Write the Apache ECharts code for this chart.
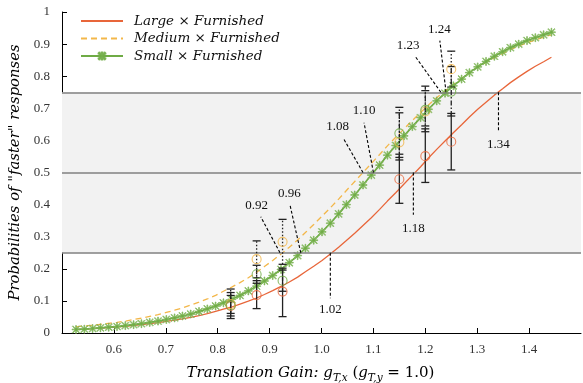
<!DOCTYPE html>
<html><head><meta charset="utf-8">
<script src="https://cdn.jsdelivr.net/npm/echarts@6/dist/echarts.min.js"></script>
<style>html,body{margin:0;padding:0;background:#fff}#c{width:583px;height:383px}</style>
</head><body><div id="c"></div>
<script>
// fitted psychometric curves (sampled x positions and read probabilities)
const curveX = [0.527,0.543,0.559,0.574,0.590,0.606,0.622,0.638,0.653,0.669,0.685,0.701,0.717,0.732,0.748,0.764,0.780,0.796,0.811,0.827,0.843,0.859,0.875,0.890,0.906,0.922,0.938,0.954,0.969,0.985,1.001,1.017,1.033,1.048,1.064,1.080,1.096,1.112,1.127,1.143,1.159,1.175,1.191,1.206,1.222,1.238,1.254,1.270,1.285,1.301,1.317,1.333,1.349,1.364,1.380,1.396,1.412,1.428,1.443];
const largeY = [0.011,0.012,0.014,0.015,0.017,0.019,0.021,0.024,0.026,0.029,0.032,0.036,0.040,0.044,0.049,0.054,0.060,0.067,0.074,0.081,0.090,0.099,0.109,0.120,0.132,0.145,0.159,0.174,0.191,0.208,0.226,0.246,0.267,0.288,0.311,0.335,0.359,0.385,0.411,0.437,0.464,0.491,0.518,0.545,0.572,0.598,0.624,0.649,0.673,0.697,0.719,0.741,0.761,0.780,0.798,0.815,0.831,0.845,0.859];
const mediumY = [0.019,0.022,0.024,0.027,0.030,0.033,0.037,0.042,0.046,0.052,0.057,0.064,0.071,0.078,0.087,0.096,0.106,0.117,0.130,0.143,0.157,0.172,0.189,0.207,0.226,0.246,0.267,0.290,0.313,0.338,0.364,0.390,0.417,0.444,0.472,0.500,0.528,0.556,0.583,0.610,0.636,0.662,0.687,0.710,0.733,0.754,0.774,0.793,0.811,0.828,0.843,0.857,0.870,0.883,0.894,0.904,0.913,0.922,0.929];
const smallY = [0.011,0.012,0.014,0.016,0.018,0.020,0.023,0.026,0.029,0.033,0.037,0.042,0.047,0.053,0.059,0.067,0.075,0.084,0.094,0.105,0.117,0.131,0.146,0.162,0.179,0.198,0.219,0.241,0.264,0.289,0.315,0.342,0.371,0.400,0.430,0.461,0.492,0.523,0.554,0.584,0.614,0.643,0.671,0.697,0.723,0.747,0.770,0.791,0.811,0.829,0.846,0.862,0.876,0.889,0.900,0.911,0.920,0.929,0.937];

// observed proportions with error bars
const ptX = [0.825,0.875,0.925,1.15,1.2,1.25];
const largeP  = [0.084,0.118,0.129,0.479,0.551,0.596];
const largeLo = [0.045,0.076,0.051,0.404,0.469,0.508];
const largeHi = [0.126,0.163,0.202,0.557,0.636,0.684];
const mediumP  = [0.090,0.230,0.284,0.594,0.690,0.822];
const mediumLo = [0.053,0.172,0.214,0.547,0.645,0.766];
const mediumHi = [0.137,0.287,0.354,0.686,0.755,0.878];
const smallP  = [0.086,0.183,0.163,0.622,0.695,0.752];
const smallLo = [0.061,0.155,0.130,0.539,0.627,0.676];
const smallHi = [0.117,0.211,0.196,0.703,0.769,0.830];

// axes
const xTicks = [0.6,0.7,0.8,0.9,1.0,1.1,1.2,1.3,1.4];
const refLevels = [0.25,0.5,0.75];

// threshold annotations
const annText  = ['0.92','0.96','1.02','1.08','1.10','1.18','1.23','1.24','1.34'];
const annX     = [0.92,0.96,1.017,1.08,1.10,1.177,1.23,1.24,1.341];
const annLevel = [0.25,0.25,0.25,0.5,0.5,0.5,0.75,0.75,0.75];
const annEndX  = [0.883,0.939,1.017,1.043,1.082,1.177,1.180,1.228,1.341];
const annEndY  = [0.362,0.401,0.108,0.604,0.655,0.368,0.863,0.911,0.627];
const annLabX  = [0.875,0.938,1.017,1.031,1.082,1.177,1.167,1.227,1.341];
const annLabY  = [0.396,0.435,0.074,0.643,0.692,0.326,0.895,0.946,0.588];

const names = ['Large \u00d7 Furnished','Medium \u00d7 Furnished','Small \u00d7 Furnished'];
const cRed = '#E8663A', cOrange = '#F3B74A', cGreen = '#6FAB45', cGreenMk = '#9DCB7A';
const serif = 'Liberation Serif';
const iserif = 'DejaVu Serif';

const asterisk = 'path://M4.5 0 h1 v10 h-1 z M0 4.5 h10 v1 h-10 z M1.1 0.4 L9.6 8.9 L8.9 9.6 L0.4 1.1 Z M8.9 0.4 L9.6 1.1 L1.1 9.6 L0.4 8.9 Z';

function zip(xs, ys){ return xs.map((x,i)=>[x, ys[i]]); }

function errRender(dash){
  return function(params, api){
    const x = api.value(0);
    const lo = api.coord([x, api.value(1)]);
    const hi = api.coord([x, api.value(2)]);
    const w = 4;
    const st = {stroke:'#222', lineWidth:1.3};
    return {type:'group', children:[
      {type:'line', shape:{x1:lo[0],y1:lo[1],x2:hi[0],y2:hi[1]}, style:Object.assign({lineDash:dash}, st)},
      {type:'line', shape:{x1:lo[0]-w,y1:lo[1],x2:lo[0]+w,y2:lo[1]}, style:st},
      {type:'line', shape:{x1:hi[0]-w,y1:hi[1],x2:hi[0]+w,y2:hi[1]}, style:st}
    ]};
  };
}

const chart = echarts.init(document.getElementById('c'), null, {renderer:'canvas'});
chart.setOption({
  animation:false,
  backgroundColor:'#fff',
  grid:{left:62, right:2, top:12, bottom:50, outerBoundsMode:'none', containLabel:false},
  legend:{
    data:[
      {name:names[0], itemStyle:{opacity:0}},
      {name:names[1], itemStyle:{opacity:0}},
      {name:names[2], itemStyle:{opacity:0.9}}
    ],
    orient:'vertical', left:75, top:9, itemWidth:42, itemHeight:9, itemGap:3.5,
    textStyle:{fontFamily:iserif, fontStyle:'italic', fontSize:13.5, color:'#111', padding:[0,0,0,6]}
  },
  xAxis:{
    type:'value', min:0.5, max:1.5, interval:0.1,
    axisLine:{show:true, lineStyle:{color:'#000', width:1}},
    axisTick:{show:true, inside:true, length:5, customValues:xTicks, lineStyle:{color:'#000'}},
    axisLabel:{customValues:xTicks, formatter:v=>Number(v).toFixed(1), fontFamily:serif, fontSize:13, color:'#333', margin:10},
    splitLine:{show:false},
    name:'{i|Translation Gain: g}{s|T,x}{r| (}{i|g}{s|T,y}{r| = 1.0)}',
    nameLocation:'middle', nameGap:30,
    nameTextStyle:{fontFamily:iserif, fontSize:15, color:'#000', padding:[0,22,0,0],
      rich:{
        i:{fontFamily:iserif, fontStyle:'italic', fontSize:15, color:'#000'},
        s:{fontFamily:iserif, fontStyle:'italic', fontSize:10.5, color:'#000', padding:[10,0,0,0]},
        r:{fontFamily:iserif, fontSize:15, color:'#000'}
      }}
  },
  yAxis:{
    type:'value', min:0, max:1, interval:0.1,
    axisLine:{show:true, lineStyle:{color:'#000', width:1}},
    axisTick:{show:true, inside:true, length:5, lineStyle:{color:'#000'}},
    axisLabel:{formatter:v=>String(+Number(v).toFixed(1)), fontFamily:serif, fontSize:13, color:'#333', margin:12},
    splitLine:{show:false},
    name:'Probabilities of "faster" responses',
    nameLocation:'middle', nameGap:27,
    nameTextStyle:{fontFamily:iserif, fontStyle:'italic', fontSize:14.8, color:'#000'}
  },
  series:[
    {
      name:'bg', type:'line', data:[], z:1, silent:true,
      markArea:{silent:true, itemStyle:{color:'#f2f2f2'}, data:[[{yAxis:refLevels[0]},{yAxis:refLevels[2]}]]},
      markLine:{silent:true, symbol:'none', label:{show:false}, lineStyle:{color:'#808080', width:1.5, type:'solid'},
        data:refLevels.map(v=>({yAxis:v}))}
    },
    {
      name:names[0], type:'line', data:zip(curveX, largeY), showSymbol:false, symbol:'none', z:3,
      lineStyle:{color:cRed, width:1.3}, itemStyle:{color:cRed}
    },
    {
      name:names[1], type:'line', data:zip(curveX, mediumY), showSymbol:false, symbol:'none', z:3,
      lineStyle:{color:cOrange, width:1.3, type:[6,4]}, itemStyle:{color:cOrange}
    },
    {
      name:names[2], type:'line', data:zip(curveX, smallY), symbol:asterisk, symbolSize:8, showSymbol:true, z:4,
      lineStyle:{color:cGreen, width:1.7}, itemStyle:{color:cGreenMk, borderColor:cGreen, borderWidth:0.6}
    },
    {
      name:'annot', type:'custom', z:5, silent:true,
      data:annText.map((t,i)=>[annX[i], annLevel[i], annEndX[i], annEndY[i], annLabX[i], annLabY[i], i]),
      encode:{x:0, y:1},
      renderItem:function(params, api){
        const i = api.value(6);
        const a = api.coord([api.value(0), api.value(1)]);
        const b = api.coord([api.value(2), api.value(3)]);
        const c = api.coord([api.value(4), api.value(5)]);
        return {type:'group', children:[
          {type:'line', shape:{x1:a[0],y1:a[1],x2:b[0],y2:b[1]}, style:{stroke:'#000', lineWidth:1.1, lineDash:[3,2]}},
          {type:'text', x:c[0], y:c[1], style:{text:annText[i], fontFamily:serif, fontSize:13, fill:'#111', align:'center', verticalAlign:'middle'}}
        ]};
      }
    },
    {
      name:'errL', type:'custom', z:6, silent:true, renderItem:errRender(null),
      data:ptX.map((x,i)=>[x, largeLo[i], largeHi[i]]), encode:{x:0, y:[1,2]}
    },
    {
      name:'errS', type:'custom', z:6, silent:true, renderItem:errRender([5,2,1.5,2]),
      data:ptX.map((x,i)=>[x, smallLo[i], smallHi[i]]), encode:{x:0, y:[1,2]}
    },
    {
      name:'errM', type:'custom', z:6, silent:true, renderItem:errRender([1.5,2]),
      data:ptX.map((x,i)=>[x, mediumLo[i], mediumHi[i]]), encode:{x:0, y:[1,2]}
    },
    {
      name:'ptL', type:'scatter', z:7, symbol:'circle', symbolSize:9, data:zip(ptX, largeP),
      itemStyle:{color:'rgba(255,255,255,0)', borderColor:cRed, borderWidth:1.1}
    },
    {
      name:'ptM', type:'scatter', z:7, symbol:'circle', symbolSize:9, data:zip(ptX, mediumP),
      itemStyle:{color:'rgba(255,255,255,0)', borderColor:cOrange, borderWidth:1.1}
    },
    {
      name:'ptS', type:'scatter', z:7, symbol:'circle', symbolSize:9, data:zip(ptX, smallP),
      itemStyle:{color:'rgba(255,255,255,0)', borderColor:cGreen, borderWidth:1.1}
    }
  ]
});
</script>
</body></html>
